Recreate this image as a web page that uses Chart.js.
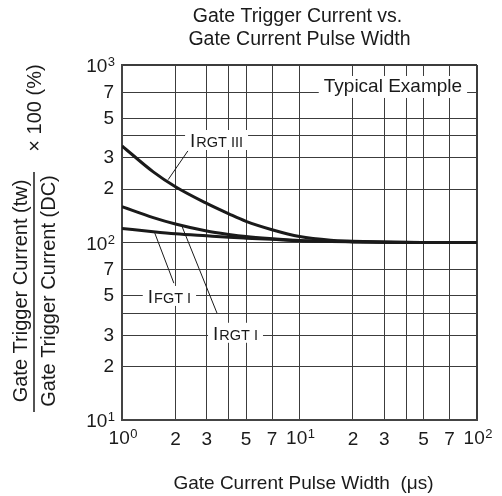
<!DOCTYPE html>
<html lang="en">
<head>
    <meta charset="UTF-8">
    <title>Gate Trigger Current vs. Gate Current Pulse Width</title>
    <style>
        html, body { margin: 0; padding: 0; background: #fff; }
        #chartBox { width: 502px; height: 496px; }
    </style>
</head>
<body>
    <div id="chartBox"><canvas id="gateChart" width="502" height="496"></canvas></div>
    <script src="https://cdn.jsdelivr.net/npm/chart.js"></script>
    <script>
    // Pulse width (us) and the three curves, in % of the DC value
    const pulseWidth = [1, 1.5, 2, 3, 4, 5, 7, 10, 15, 20, 30, 50, 70, 100];
    const irgt3 = [350, 250, 206, 166, 145, 131.5, 118, 108, 103, 101.8, 100.6, 100, 100, 100];
    const irgt1 = [159, 138, 127, 116, 111, 108, 105, 102.5, 101.5, 101, 100.3, 100, 100, 100];
    const ifgt1 = [120, 115, 112, 109, 107, 105.8, 104.2, 102.3, 101.3, 100.8, 100.2, 100, 100, 100];

    // Tick positions and their labels (powers of ten are drawn with a raised exponent)
    const xTicks = [1, 2, 3, 4, 5, 7, 10, 20, 30, 40, 50, 70, 100];
    const xTickLabels = ['10^0', '2', '3', '', '5', '7', '10^1', '2', '3', '', '5', '7', '10^2'];
    const yTicks = [10, 20, 30, 40, 50, 70, 100, 200, 300, 400, 500, 700, 1000];
    const yTickLabels = ['10^1', '2', '3', '', '5', '7', '10^2', '2', '3', '', '5', '7', '10^3'];

    const FONT = "'Liberation Sans', Arial, Helvetica, sans-serif";
    const INK = '#1a1a1a';

    // Curve labels (centre in data units) and their leader lines
    const curveLabels = [
        { big: 'I', small: 'RGT III', x: 3.41, y: 378, line: [[2.35, 328], [1.82, 226]] },
        { big: 'I', small: 'FGT I', x: 1.85, y: 50, line: [[1.96, 59], [1.53, 113]] },
        { big: 'I', small: 'RGT I', x: 4.36, y: 31, line: [[3.43, 40], [2.18, 123]] }
    ];

    function toPoints(ys) {
        return pulseWidth.map((x, i) => ({ x: x, y: ys[i] }));
    }

    function curve(label, ys) {
        return {
            label: label,
            data: toPoints(ys),
            borderColor: INK,
            borderWidth: 3,
            pointRadius: 0,
            fill: false,
            cubicInterpolationMode: 'monotone'
        };
    }

    function plainLabel(list) {
        return (v, i) => (list[i].indexOf('^') >= 0 ? '' : list[i]);
    }

    // "10" with a raised exponent; (x, base) is the anchor, align 'right' or 'center'
    function powerLabel(ctx, text, x, base, align) {
        const parts = text.split('^');
        ctx.font = '19px ' + FONT;
        const wMain = ctx.measureText(parts[0]).width;
        ctx.font = '13px ' + FONT;
        const wExp = ctx.measureText(parts[1]).width;
        const total = wMain + wExp + 0.5;
        const left = align === 'right' ? x - total : x - total / 2;
        ctx.textAlign = 'left';
        ctx.textBaseline = 'alphabetic';
        ctx.fillStyle = INK;
        ctx.font = '19px ' + FONT;
        ctx.fillText(parts[0], left, base);
        ctx.font = '13px ' + FONT;
        ctx.fillText(parts[1], left + wMain + 0.5, base - 6);
    }

    // Draw "I" full size followed by smaller caps, centred on (cx, cy)
    function capsLabel(ctx, big, small, cx, cy) {
        ctx.font = '19px ' + FONT;
        const wBig = ctx.measureText(big).width;
        ctx.font = '14.5px ' + FONT;
        const wSmall = ctx.measureText(small).width;
        const total = wBig + 1 + wSmall;
        const left = cx - total / 2;
        const base = cy + 7;
        ctx.fillStyle = '#fff';
        ctx.fillRect(left - 5, cy - 10, total + 10, 20);
        ctx.fillStyle = INK;
        ctx.textAlign = 'left';
        ctx.textBaseline = 'alphabetic';
        ctx.font = '19px ' + FONT;
        ctx.fillText(big, left, base);
        ctx.font = '14.5px ' + FONT;
        ctx.fillText(small, left + wBig + 1, base);
    }

    const decorPlugin = {
        id: 'decor',
        afterDraw(chart) {
            const ctx = chart.ctx;
            const xs = chart.scales.x, ys = chart.scales.y;
            const area = chart.chartArea;
            ctx.save();

            // power-of-ten tick labels
            xTicks.forEach((v, i) => {
                if (xTickLabels[i].indexOf('^') >= 0) {
                    powerLabel(ctx, xTickLabels[i], xs.getPixelForValue(v) + 1, area.bottom + 24, 'center');
                }
            });
            yTicks.forEach((v, i) => {
                if (yTickLabels[i].indexOf('^') >= 0) {
                    powerLabel(ctx, yTickLabels[i], area.left - 7, ys.getPixelForValue(v) + 7, 'right');
                }
            });

            // title
            ctx.fillStyle = INK;
            ctx.font = '19.5px ' + FONT;
            ctx.textAlign = 'center';
            ctx.textBaseline = 'middle';
            const midX = (area.left + area.right) / 2;
            ctx.fillText('Gate Trigger Current vs.', midX - 2, 17);
            ctx.fillText('Gate Current Pulse Width', midX, 40);

            // x axis title
            ctx.font = '19px ' + FONT;
            ctx.fillText('Gate Current Pulse Width  (\u03BCs)', midX + 4, 484);

            // "Typical Example" box
            const tx = xs.getPixelForValue(33.6), ty = ys.getPixelForValue(752);
            const tw = ctx.measureText('Typical Example').width;
            ctx.fillStyle = '#fff';
            ctx.fillRect(tx - tw / 2 - 5, ty - 11, tw + 10, 22);
            ctx.fillStyle = INK;
            ctx.fillText('Typical Example', tx, ty);

            // curve labels + leaders
            curveLabels.forEach(l => {
                capsLabel(ctx, l.big, l.small, xs.getPixelForValue(l.x), ys.getPixelForValue(l.y));
                ctx.strokeStyle = INK;
                ctx.lineWidth = 1;
                ctx.beginPath();
                ctx.moveTo(xs.getPixelForValue(l.line[0][0]), ys.getPixelForValue(l.line[0][1]));
                ctx.lineTo(xs.getPixelForValue(l.line[1][0]), ys.getPixelForValue(l.line[1][1]));
                ctx.stroke();
            });

            // y axis title as a fraction, rotated
            ctx.rotate(-Math.PI / 2);
            ctx.font = '20px ' + FONT;
            ctx.textAlign = 'center';
            ctx.textBaseline = 'middle';
            ctx.fillStyle = INK;
            ctx.fillText('Gate Trigger Current (tw)', -291, 21);
            ctx.fillText('Gate Trigger Current (DC)', -291, 49);
            ctx.fillText('\u00D7 100 (%)', -108, 35);
            ctx.strokeStyle = INK;
            ctx.lineWidth = 1.5;
            ctx.beginPath();
            ctx.moveTo(-412, 34);
            ctx.lineTo(-172, 34);
            ctx.stroke();
            ctx.restore();
        }
    };

    const gridColor = '#3c3c3c';

    new Chart(document.getElementById('gateChart'), {
        type: 'line',
        data: {
            datasets: [
                curve('IRGT III', irgt3),
                curve('IRGT I', irgt1),
                curve('IFGT I', ifgt1)
            ]
        },
        options: {
            responsive: false,
            animation: false,
            layout: { padding: { top: 65, right: 25, left: 0, bottom: 0 } },
            plugins: {
                legend: { display: false },
                title: { display: false },
                tooltip: { enabled: false }
            },
            scales: {
                x: {
                    type: 'logarithmic',
                    min: 1,
                    max: 100,
                    afterFit: s => { s.height = 76; },
                    afterBuildTicks: s => { s.ticks = xTicks.map(v => ({ value: v })); },
                    grid: {
                        color: gridColor,
                        lineWidth: c => (c.tick && c.tick.value === 100 ? 2 : 1),
                        drawTicks: false
                    },
                    border: { color: '#444', width: 2 },
                    ticks: {
                        autoSkip: false,
                        maxRotation: 0,
                        padding: 8,
                        color: INK,
                        font: { family: FONT, size: 19 },
                        callback: plainLabel(xTickLabels)
                    }
                },
                y: {
                    type: 'logarithmic',
                    min: 10,
                    max: 1000,
                    afterFit: s => { s.width = 122; },
                    afterBuildTicks: s => { s.ticks = yTicks.map(v => ({ value: v })); },
                    grid: {
                        color: gridColor,
                        lineWidth: c => (c.tick && c.tick.value === 1000 ? 2 : 1),
                        drawTicks: false
                    },
                    border: { color: '#444', width: 2 },
                    ticks: {
                        autoSkip: false,
                        padding: 8,
                        color: INK,
                        font: { family: FONT, size: 19 },
                        callback: plainLabel(yTickLabels)
                    }
                }
            }
        },
        plugins: [decorPlugin]
    });
    </script>
</body>
</html>
